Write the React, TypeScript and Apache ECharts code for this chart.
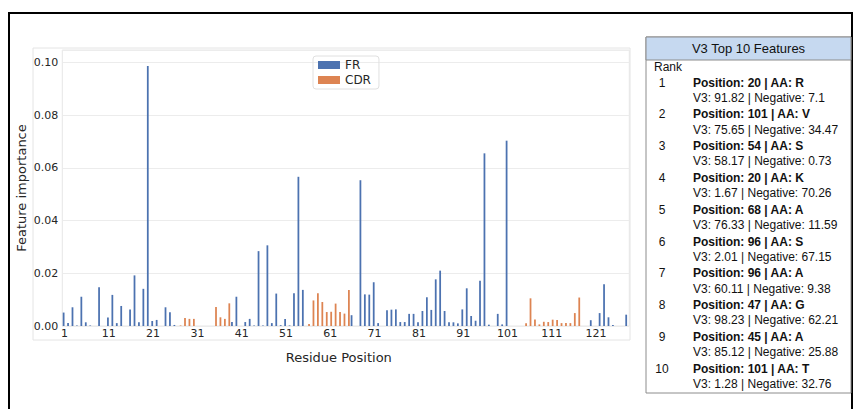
import React, { useEffect, useRef } from "react";
import * as echarts from "echarts";

// ---- data ----
const positions: string[] = Array.from({ length: 128 }, (_, i) => String(i + 1));
const importance: number[] = [
  0.0051, 0.0011, 0.0071, 0.0002, 0.0111, 0.0014, 0.0002, 0, 0.0147, 0,
  0.0032, 0.0118, 0.0011, 0.0076, 0, 0.0063, 0.0192, 0.0014, 0.0141, 0.0986,
  0.0019, 0.0023, 0, 0.0071, 0.0052, 0.0004, 0.0002, 0.003, 0.0027, 0.0027,
  0, 0, 0, 0, 0.0072, 0.0033, 0.0027, 0.0086, 0.0015, 0.0111,
  0, 0.0015, 0.0027, 0.0002, 0.0284, 0.0002, 0.0306, 0.0011, 0.0123, 0.0003,
  0.0027, 0.0002, 0.0124, 0.0566, 0.0137, 0.0008, 0.0097, 0.0124, 0.0091, 0.0053,
  0.0054, 0.0085, 0.0053, 0.0047, 0.0137, 0.0041, 0, 0.0553, 0.012, 0.0119,
  0.0166, 0.0011, 0, 0.006, 0.0062, 0.0063, 0.0015, 0.0015, 0.0046, 0.0046,
  0.0014, 0.0057, 0.0109, 0.0061, 0.0177, 0.021, 0.0057, 0.0014, 0.0014, 0.001,
  0.0063, 0.0143, 0.0038, 0.002, 0.0172, 0.0655, 0.0005, 0, 0.0046, 0.0006,
  0.0703, 0, 0, 0, 0.001, 0.0105, 0.0025, 0.0006, 0.0016, 0.0015,
  0.0024, 0.0023, 0.0011, 0.0011, 0.0011, 0.0049, 0.0108, 0, 0, 0.0022,
  0, 0.0049, 0.0158, 0.0033, 0.0004, 0, 0, 0.0043,
];
const cdrRanges: [number, number][] = [
  [27, 38],
  [56, 65],
  [105, 117],
];
const regionNames = ["FR", "CDR"];

const panelTitle = "V3 Top 10 Features";
const topRanks = [1, 2, 3, 4, 5, 6, 7, 8, 9, 10];
const topPositions = [20, 101, 54, 20, 68, 96, 96, 47, 45, 101];
const topAAs = ["R", "V", "S", "K", "A", "S", "A", "G", "A", "T"];
const topV3 = [91.82, 75.65, 58.17, 1.67, 76.33, 2.01, 60.11, 98.23, 85.12, 1.28];
const topNeg = [7.1, 34.47, 0.73, 70.26, 11.59, 67.15, 9.38, 62.21, 25.88, 32.76];

const isCdr = (p: number) => cdrRanges.some(([a, b]) => p >= a && p <= b);

export default function App() {
  const ref = useRef<HTMLDivElement>(null);

  useEffect(() => {
    if (!ref.current) return;
    const chart = echarts.init(ref.current, null, { renderer: "svg" });

    const frData = importance.map((v, i) => (isCdr(i + 1) ? null : v));
    const cdrData = importance.map((v, i) => (isCdr(i + 1) ? v : null));

    const chartFont = "DejaVu Sans";
    const panelFont = "Liberation Sans";
    const textColor = "#262626";

    const px = 646;
    const py = 37;
    const pw = 205;
    const ph = 356;
    const panel: any[] = [
      {
        type: "rect",
        shape: { x: px, y: py, width: pw, height: ph },
        style: { fill: "#fff", stroke: "#8c8c8c", lineWidth: 1 },
      },
      {
        type: "rect",
        shape: { x: px, y: py, width: pw, height: 23 },
        style: { fill: "#c6d9f0", stroke: "#8c8c8c", lineWidth: 1 },
      },
      {
        type: "text",
        x: px + pw / 2,
        y: py + 11.5,
        style: {
          text: panelTitle,
          font: `13px '${panelFont}'`,
          fill: "#111",
          align: "center",
          verticalAlign: "middle",
        },
      },
      {
        type: "text",
        x: 654,
        y: 67,
        style: { text: "Rank", font: `12px '${panelFont}'`, fill: "#111", verticalAlign: "middle" },
      },
    ];
    topRanks.forEach((r, i) => {
      const y = 82.5 + i * 31.8;
      panel.push(
        {
          type: "text",
          x: 662,
          y,
          style: { text: String(r), font: `12px '${panelFont}'`, fill: "#111", align: "center", verticalAlign: "middle" },
        },
        {
          type: "text",
          x: 693,
          y,
          style: {
            text: `Position: ${topPositions[i]} | AA: ${topAAs[i]}`,
            font: `bold 12px '${panelFont}'`,
            fill: "#111",
            verticalAlign: "middle",
          },
        },
        {
          type: "text",
          x: 693,
          y: y + 15.3,
          style: {
            text: `V3: ${topV3[i]} | Negative: ${topNeg[i]}`,
            font: `12px '${panelFont}'`,
            fill: "#111",
            verticalAlign: "middle",
          },
        }
      );
    });

    const option: any = {
      animation: false,
      backgroundColor: "#fff",
      grid: {
        left: 62.3,
        right: 861 - 629.3,
        top: 50,
        bottom: 409 - 326,
        show: true,
        borderColor: "#e6e6e6",
        borderWidth: 1,
        backgroundColor: "#fff",
      },
      legend: {
        data: regionNames,
        orient: "vertical",
        left: 313,
        top: 56,
        icon: "rect",
        itemWidth: 22,
        itemHeight: 8,
        itemGap: 3,
        padding: [3, 8, 3, 5],
        borderColor: "#e0e0e0",
        borderWidth: 1,
        borderRadius: 3,
        textStyle: { fontFamily: chartFont, fontSize: 12, color: textColor },
      },
      xAxis: {
        type: "category",
        data: positions,
        name: "Residue Position",
        nameLocation: "middle",
        nameGap: 25,
        nameTextStyle: { fontFamily: chartFont, fontSize: 13, color: textColor, padding: [0, 14, 0, 0] },
        axisLine: { show: false },
        axisTick: { show: false },
        axisLabel: {
          interval: (i: number) => i % 10 === 0,
          margin: 2,
          fontFamily: chartFont,
          fontSize: 11,
          color: textColor,
        },
      },
      yAxis: {
        type: "value",
        min: 0,
        max: 0.1047,
        interval: 0.02,
        name: "Feature importance",
        nameLocation: "middle",
        nameGap: 34,
        nameMoveOverlap: false,
        nameTextStyle: { fontFamily: chartFont, fontSize: 13, color: textColor },
        axisLine: { show: false },
        axisTick: { show: false },
        splitLine: { lineStyle: { color: "#ececec", width: 1 } },
        axisLabel: {
          margin: 4,
          fontFamily: chartFont,
          fontSize: 11,
          color: textColor,
          showMaxLabel: false,
          formatter: (v: number) => {
            const r = Math.round(v / 0.02) * 0.02;
            return Math.abs(r - v) < 1e-9 ? v.toFixed(2) : "";
          },
        },
      },
      series: [
        {
          name: "FR",
          type: "bar",
          data: frData,
          barWidth: "40%",
          barGap: "0%",
          itemStyle: { color: "#4c72b0" },
        },
        {
          name: "CDR",
          type: "bar",
          data: cdrData,
          barWidth: "40%",
          barGap: "0%",
          itemStyle: { color: "#dd8452" },
        },
      ],
      graphic: [
        {
          type: "rect",
          silent: true,
          z: -1,
          shape: { x: 33, y: 48, width: 597, height: 292 },
          style: { fill: "none", stroke: "#e4e4e4", lineWidth: 1 },
        },
        {
          type: "rect",
          silent: true,
          shape: { x: 9, y: 13, width: 843, height: 420 },
          style: { fill: "none", stroke: "#000", lineWidth: 2 },
        },
        ...panel,
      ],
    };

    chart.setOption(option);
    return () => chart.dispose();
  }, []);

  return (
    <div
      ref={ref}
      style={{ position: "fixed", left: 0, top: 0, width: 861, height: 409, background: "#fff" }}
    />
  );
}
